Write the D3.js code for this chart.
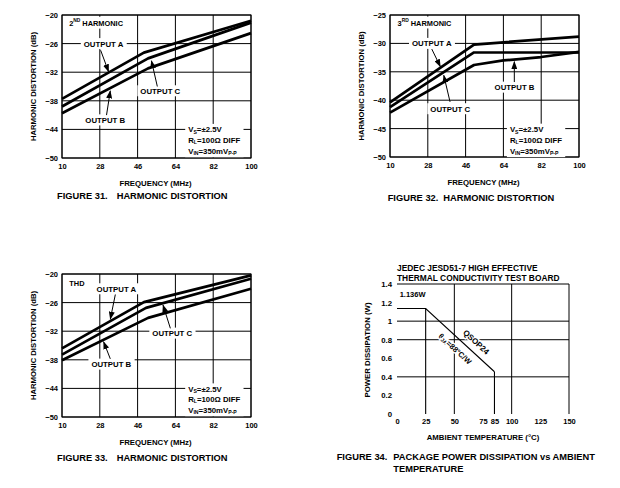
<!DOCTYPE html>
<html><head><meta charset="utf-8">
<script src="https://cdn.jsdelivr.net/npm/d3@7"></script>
<style>
body{margin:0;background:#fff}
svg text{font-family:"Liberation Sans",Arial,sans-serif;font-weight:bold;fill:#000}
</style></head><body>
<svg id="c" width="620" height="488"></svg>
<script>
// ---------- data ----------
const freqTicks = [10, 28, 46, 64, 82, 100];
const fig31Ticks = [-20, -26, -32, -38, -44, -50];
const fig32Ticks = [-25, -30, -35, -40, -45, -50];
const fig33Ticks = [-20, -26, -32, -38, -44, -50];

const fig31OutA = [[10, -37.6], [49, -27.9], [100, -21.2]];
const fig31OutC = [[10, -39.2], [51, -29.1], [100, -21.6]];
const fig31OutB = [[10, -40.6], [51, -31.2], [100, -23.8]];

const fig32OutA = [[10, -40.4], [50, -30.2], [100, -28.8]];
const fig32OutC = [[10, -41.2], [50, -31.6], [100, -31.6]];
const fig32OutB = [[10, -42.2], [50, -33.8], [64, -33.0], [82, -32.4], [100, -31.5]];

const fig33OutA = [[10, -35.6], [49, -25.9], [100, -20.3]];
const fig33OutC = [[10, -36.9], [50, -27.1], [100, -21.0]];
const fig33OutB = [[10, -38.1], [51, -29.2], [100, -23.1]];

const tempTicks = [0, 25, 50, 75, 85, 100, 125, 150];
const powerTicks = [0, 0.2, 0.4, 0.6, 0.8, 1, 1.2, 1.4];
const powerGrid = [1.4, 1, 0.8, 0.4];
const tempGrid = [50, 100, 150];
const derating = [[0, 1.136], [25, 1.136], [85, 0.455]];
const derateDrops = [25, 85];

// ---------- drawing ----------
const svg = d3.select('#c');
const defs = svg.append('defs');
defs.append('marker').attr('id', 'ah').attr('markerUnits', 'userSpaceOnUse')
  .attr('markerWidth', 8).attr('markerHeight', 6).attr('refX', 7.5).attr('refY', 3)
  .attr('orient', 'auto').append('path').attr('d', 'M0,0L8,3L0,6Z').attr('fill', '#000');

function bgText(g, x, y, parts, size, anchor) {
  const t = g.append('text').attr('x', x).attr('y', y)
    .attr('text-anchor', anchor || 'start').attr('dominant-baseline', 'central')
    .style('font-size', size + 'px');
  let shift = 0;
  parts.forEach(p => {
    if (typeof p === 'string') {
      t.append('tspan').attr('dy', -shift).style('font-size', size + 'px').text(p);
      shift = 0;
    } else {
      const s = p.sup ? -size * 0.38 : size * 0.3;
      t.append('tspan').attr('dy', s - shift).style('font-size', (size * 0.66) + 'px').text(p.sup || p.sub);
      shift = s;
    }
  });
  return t;
}
function addBg(g, texts, pad) {
  const boxes = texts.map(t => t.node().getBBox());
  const x0 = d3.min(boxes, b => b.x) - pad, x1 = d3.max(boxes, b => b.x + b.width) + pad;
  const y0 = d3.min(boxes, b => b.y) - 1, y1 = d3.max(boxes, b => b.y + b.height) + 1;
  g.insert('rect', () => texts[0].node()).attr('x', x0).attr('y', y0)
    .attr('width', x1 - x0).attr('height', y1 - y0).attr('fill', '#fff');
}

function harm(cfg) {
  const g = svg.append('g');
  const x = d3.scaleLinear().domain([10, 100]).range([cfg.left, cfg.right]);
  const y = d3.scaleLinear().domain([cfg.yTicks[0], cfg.yTicks[cfg.yTicks.length - 1]]).range([cfg.top, cfg.bottom]);
  g.append('g').selectAll('line').data(freqTicks).join('line')
    .attr('x1', d => x(d)).attr('x2', d => x(d)).attr('y1', cfg.top).attr('y2', cfg.bottom)
    .attr('stroke', '#000').attr('stroke-width', 1);
  g.append('g').selectAll('line').data(cfg.yTicks).join('line')
    .attr('y1', d => y(d)).attr('y2', d => y(d)).attr('x1', cfg.left).attr('x2', cfg.right)
    .attr('stroke', '#000').attr('stroke-width', 1);

  const ax = g.append('g').attr('transform', `translate(0,${cfg.bottom})`)
    .call(d3.axisBottom(x).tickValues(freqTicks).tickSize(0).tickPadding(6));
  ax.select('.domain').remove();
  ax.selectAll('text').style('font-size', '7.5px');
  const ay = g.append('g').attr('transform', `translate(${cfg.left},0)`)
    .call(d3.axisLeft(y).tickValues(cfg.yTicks).tickSize(0).tickPadding(4));
  ay.select('.domain').remove();
  ay.selectAll('text').style('font-size', '7.5px');

  g.append('text').attr('x', (cfg.left + cfg.right) / 2 - 1).attr('y', cfg.bottom + 25)
    .attr('text-anchor', 'middle').attr('dominant-baseline', 'central')
    .style('font-size', '7.8px').text('FREQUENCY (MHz)');
  g.append('text').attr('transform', `translate(${cfg.left - 29},${(cfg.top + cfg.bottom) / 2}) rotate(-90)`)
    .attr('text-anchor', 'middle').attr('dominant-baseline', 'central')
    .style('font-size', '7.7px').text('HARMONIC DISTORTION (dB)');

  const line = d3.line().x(d => x(d[0])).y(d => y(d[1]));
  g.append('g').selectAll('path').data(cfg.series).join('path')
    .attr('d', d => line(d)).attr('fill', 'none').attr('stroke', '#000')
    .attr('stroke-width', 2.7).attr('stroke-linejoin', 'round');

  g.append('rect').attr('x', cfg.left).attr('y', cfg.top)
    .attr('width', cfg.right - cfg.left).attr('height', cfg.bottom - cfg.top)
    .attr('fill', 'none').attr('stroke', '#000').attr('stroke-width', 1);

  const hg = g.append('g');
  addBg(hg, [bgText(hg, x(cfg.head.at[0]), y(cfg.head.at[1]), cfg.head.parts, 7.4)], 2);
  cfg.labels.forEach(l => {
    const lg = g.append('g');
    addBg(lg, [bgText(lg, x(l.at[0]), y(l.at[1]), [l.text], 7.8, 'middle')], 3);
    g.append('line').attr('x1', x(l.from[0])).attr('y1', y(l.from[1]))
      .attr('x2', x(l.to[0])).attr('y2', y(l.to[1]))
      .attr('stroke', '#000').attr('stroke-width', 1).attr('marker-end', 'url(#ah)');
  });
  const cg = g.append('g');
  const c = cfg.cond;
  const t1 = bgText(cg, x(c.fx), y(c.ys[0]), ['V', {sub: 'S'}, '=\u00B12.5V'], 7.8);
  const t2 = bgText(cg, x(c.fx), y(c.ys[1]), ['R', {sub: 'L'}, '=100\u03A9 DIFF'], 7.8);
  const t3 = bgText(cg, x(c.fx), y(c.ys[2]), ['V', {sub: 'IN'}, '=350mV', {sub: 'P-P'}], 7.8);
  addBg(cg, [t1, t2, t3], 3);

  const cap = svg.append('text').attr('y', cfg.capY).attr('dominant-baseline', 'central').style('font-size', '9.3px');
  cap.append('tspan').attr('x', cfg.capX[0]).text(cfg.capText[0]);
  cap.append('tspan').attr('x', cfg.capX[1]).text(cfg.capText[1]);
}

harm({
  left: 62, right: 251, top: 15, bottom: 158, yTicks: fig31Ticks,
  series: [fig31OutA, fig31OutC, fig31OutB],
  head: {at: [13.4, -21.7], parts: ['2', {sup: 'ND'}, ' HARMONIC']},
  labels: [
    {text: 'OUTPUT A', at: [29.8, -26], from: [28.4, -27.4], to: [32.2, -31.9]},
    {text: 'OUTPUT C', at: [56.8, -35.9], from: [55.4, -35], to: [52.6, -29.6]},
    {text: 'OUTPUT B', at: [30.6, -42], from: [31.2, -41], to: [33, -35.9]}
  ],
  cond: {fx: 70.1, ys: [-44, -46.2, -48.5]},
  capX: [57, 116.7], capY: 196, capText: ['FIGURE 31.', 'HARMONIC DISTORTION']
});

harm({
  left: 390, right: 579, top: 15, bottom: 157, yTicks: fig32Ticks,
  series: [fig32OutA, fig32OutC, fig32OutB],
  head: {at: [13.6, -26.4], parts: ['3', {sup: 'RD'}, ' HARMONIC']},
  labels: [
    {text: 'OUTPUT A', at: [29.9, -30], from: [29.9, -31], to: [34, -34.1]},
    {text: 'OUTPUT C', at: [38.7, -41.5], from: [38.6, -40.3], to: [35.6, -35.6]},
    {text: 'OUTPUT B', at: [69.3, -37.7], from: [69.2, -36.8], to: [69.2, -33.2]}
  ],
  cond: {fx: 67.1, ys: [-45.1, -47.0, -48.9]},
  capX: [387.7, 443.3], capY: 198, capText: ['FIGURE 32.', 'HARMONIC DISTORTION']
});

harm({
  left: 62, right: 251, top: 274, bottom: 417, yTicks: fig33Ticks,
  series: [fig33OutA, fig33OutC, fig33OutB],
  head: {at: [13.5, -21.9], parts: ['THD']},
  labels: [
    {text: 'OUTPUT A', at: [35.9, -23.1], from: [35.4, -24.3], to: [33, -29.5]},
    {text: 'OUTPUT C', at: [62.5, -32.4], from: [61.6, -31.4], to: [58.1, -26.5]},
    {text: 'OUTPUT B', at: [33.5, -38.9], from: [33, -37.8], to: [29.8, -34.2]}
  ],
  cond: {fx: 70.1, ys: [-44.1, -46.2, -48.5]},
  capX: [57, 116.7], capY: 458, capText: ['FIGURE 33.', 'HARMONIC DISTORTION']
});

// ---------- Figure 34 ----------
(function () {
  const L = 397, R = 569, T = 284, B = 414;
  const g = svg.append('g');
  const x = d3.scaleLinear().domain([0, 150]).range([L, R]);
  const y = d3.scaleLinear().domain([0, 1.4]).range([B, T]);
  g.append('g').selectAll('line').data(powerGrid).join('line')
    .attr('x1', L).attr('x2', R).attr('y1', d => y(d)).attr('y2', d => y(d))
    .attr('stroke', '#000').attr('stroke-width', 1);
  g.append('g').selectAll('line').data(tempGrid).join('line')
    .attr('x1', d => x(d)).attr('x2', d => x(d)).attr('y1', T).attr('y2', B)
    .attr('stroke', '#000').attr('stroke-width', 1);
  g.append('path').attr('d', d3.line().x(d => x(d[0])).y(d => y(d[1]))(derating))
    .attr('fill', 'none').attr('stroke', '#000').attr('stroke-width', 1.1);
  const lookup = t => derating.find(d => d[0] === t)[1];
  g.append('g').selectAll('line').data(derateDrops).join('line')
    .attr('x1', d => x(d)).attr('x2', d => x(d)).attr('y1', d => y(lookup(d))).attr('y2', B)
    .attr('stroke', '#000').attr('stroke-width', 1.1);

  const ax = g.append('g').attr('transform', `translate(0,${B})`)
    .call(d3.axisBottom(x).tickValues(tempTicks).tickSize(0).tickPadding(5).tickFormat(d3.format('d')));
  ax.select('.domain').remove();
  ax.selectAll('text').style('font-size', '7.5px');
  const ay = g.append('g').attr('transform', `translate(${L},0)`)
    .call(d3.axisLeft(y).tickValues(powerTicks).tickSize(0).tickPadding(5).tickFormat(d => d3.format('~g')(d)));
  ay.select('.domain').remove();
  ay.selectAll('text').style('font-size', '7.8px');

  g.append('text').attr('x', 483).attr('y', 437).attr('text-anchor', 'middle')
    .attr('dominant-baseline', 'central').style('font-size', '7.8px').text('AMBIENT TEMPERATURE (\u00B0C)');
  g.append('text').attr('transform', `translate(367,350) rotate(-90)`).attr('text-anchor', 'middle')
    .attr('dominant-baseline', 'central').style('font-size', '7.8px').text('POWER DISSIPATION (W)');
  g.append('text').attr('x', 397).attr('y', 268).attr('dominant-baseline', 'central')
    .style('font-size', '8.4px').text('JEDEC JESD51-7 HIGH EFFECTIVE');
  g.append('text').attr('x', 397).attr('y', 277.7).attr('dominant-baseline', 'central')
    .style('font-size', '8.4px').text('THERMAL CONDUCTIVITY TEST BOARD');
  g.append('text').attr('x', x(2.3)).attr('y', y(1.285)).attr('dominant-baseline', 'central')
    .style('font-size', '7.5px').text('1.136W');

  const ang = Math.atan2(y(0.455) - y(1.136), x(85) - x(25)) * 180 / Math.PI;
  const rot = (tx, ty, fs) => g.append('text')
    .attr('transform', `translate(${tx},${ty}) rotate(${ang})`)
    .attr('text-anchor', 'middle').attr('dominant-baseline', 'central')
    .style('font-size', fs + 'px').attr('stroke', '#fff').attr('stroke-width', 3)
    .attr('paint-order', 'stroke');
  rot(x(63.6) + 6, y(0.697) - 7, 8).text('QSOP24');
  const th = rot(x(56) - 6, y(0.78) + 7, 7.6);
  th.append('tspan').text('\u03B8');
  th.append('tspan').attr('dy', 2).style('font-size', '5.2px').text('JA');
  th.append('tspan').attr('dy', -2).text('=88\u00B0C/W');

  const cap = svg.append('text').attr('y', 457).attr('dominant-baseline', 'central').style('font-size', '9.3px');
  cap.append('tspan').attr('x', 336.7).text('FIGURE 34.');
  cap.append('tspan').attr('x', 393.3).text('PACKAGE POWER DISSIPATION vs AMBIENT');
  svg.append('text').attr('x', 393.3).attr('y', 469).attr('dominant-baseline', 'central')
    .style('font-size', '9.3px').text('TEMPERATURE');
})();
</script>
</body></html>
